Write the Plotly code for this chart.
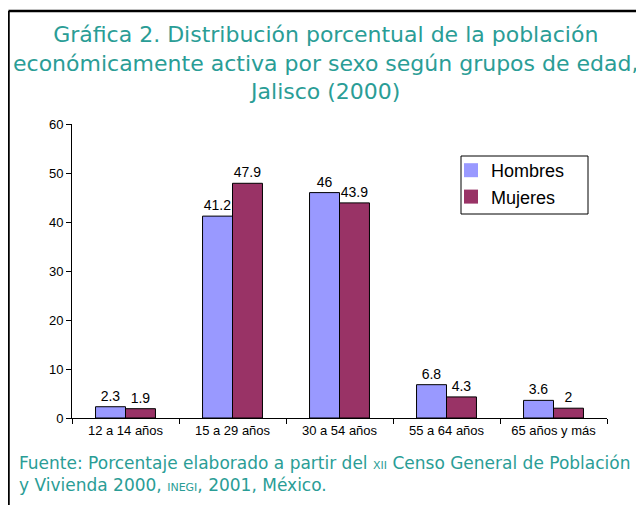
import plotly.graph_objects as go

categorias = ["12 a 14 años", "15 a 29 años", "30 a 54 años", "55 a 64 años", "65 años y más"]
hombres = [2.3, 41.2, 46, 6.8, 3.6]
mujeres = [1.9, 47.9, 43.9, 4.3, 2]
y_ticks = [0, 10, 20, 30, 40, 50, 60]

teal = "#2A9D96"
c_h, c_m = "#9999FF", "#993366"
W, H = 644, 505
L, R, T, B = 64, 45, 116, 95
pw, ph = W - L - R, H - T - B

fig = go.Figure()
fig.add_trace(go.Bar(name="Hombres", x=categorias, y=hombres, text=[str(v) for v in hombres],
                     textposition="outside", marker=dict(color=c_h, line=dict(color="black", width=1)),
                     textfont=dict(family="Liberation Sans, Arial", size=14, color="black"),
                     cliponaxis=False, showlegend=False))
fig.add_trace(go.Bar(name="Mujeres", x=categorias, y=mujeres, text=[str(v) for v in mujeres],
                     textposition="outside", marker=dict(color=c_m, line=dict(color="black", width=1)),
                     textfont=dict(family="Liberation Sans, Arial", size=14, color="black"),
                     cliponaxis=False, showlegend=False))
# legend entries: plain square swatches without outline
for nm, col in [("Hombres", c_h), ("Mujeres", c_m)]:
    fig.add_trace(go.Scatter(name=nm, x=[None], y=[None], mode="markers",
                             marker=dict(symbol="square", size=14, color=col, line=dict(width=0))))

fig.update_layout(
    width=W, height=H,
    margin=dict(l=L, r=R, t=T, b=B),
    paper_bgcolor="white", plot_bgcolor="white",
    barmode="group", bargap=0.44, bargroupgap=0,
    showlegend=True,
    legend=dict(x=(443 - L) / pw, y=1 - (144 - T) / ph, xanchor="left", yanchor="top",
                borderwidth=0, bgcolor="rgba(0,0,0,0)",
                font=dict(family="Liberation Sans, Arial", size=18, color="black"),
                itemwidth=30),
    font=dict(family="Liberation Sans, Arial", size=13, color="black"),
    xaxis=dict(showline=True, linecolor="black", linewidth=1, ticks="outside", ticklen=5,
               tickcolor="black", tickson="boundaries", showgrid=False,
               tickfont=dict(size=13)),
    yaxis=dict(range=[0, 60], tickvals=y_ticks, showline=True, linecolor="black", linewidth=1,
               ticks="outside", ticklen=5, tickcolor="black", showgrid=False, zeroline=False,
               tickfont=dict(size=13)),
)

# legend frame
fig.add_shape(type="rect", xref="paper", yref="paper",
              x0=(453 - L) / pw, x1=(580 - L) / pw, y0=1 - (206 - T) / ph, y1=1 - (148 - T) / ph,
              line=dict(color="black", width=1), fillcolor="white", layer="below")

fig.add_annotation(xref="paper", yref="paper", x=(317 - L) / pw, y=1.0, yshift=T - 12, xanchor="center", yanchor="top",
                   text="Gráfica 2. Distribución porcentual de la población<br>económicamente activa por sexo según grupos de edad,<br>Jalisco (2000)",
                   showarrow=False, align="center",
                   font=dict(family="DejaVu Sans", size=22, color=teal))
fig.add_annotation(xref="paper", yref="paper", x=0, xshift=9 - L, y=0, yshift=-33, xanchor="left", yanchor="top",
                   text="Fuente: Porcentaje elaborado a partir del <span style='font-size:11px'>XII</span> Censo General de Población<br>y Vivienda 2000, <span style='font-size:11px'>INEGI</span>, 2001, México.",
                   showarrow=False, align="left",
                   font=dict(family="DejaVu Sans", size=17, color=teal))

# frame: top and left edges only (right/bottom lie outside the picture)
fx0 = (0.5 - L) / pw
fy1 = 1 + (T - 3) / ph
fig.add_shape(type="line", xref="paper", yref="paper", x0=fx0, x1=1 + R / pw, y0=fy1, y1=fy1,
              line=dict(color="black", width=2.5), layer="above")
fig.add_shape(type="line", xref="paper", yref="paper", x0=fx0, x1=fx0, y0=-B / ph, y1=fy1,
              line=dict(color="black", width=2.5), layer="above")

fig.write_html("out.html")
